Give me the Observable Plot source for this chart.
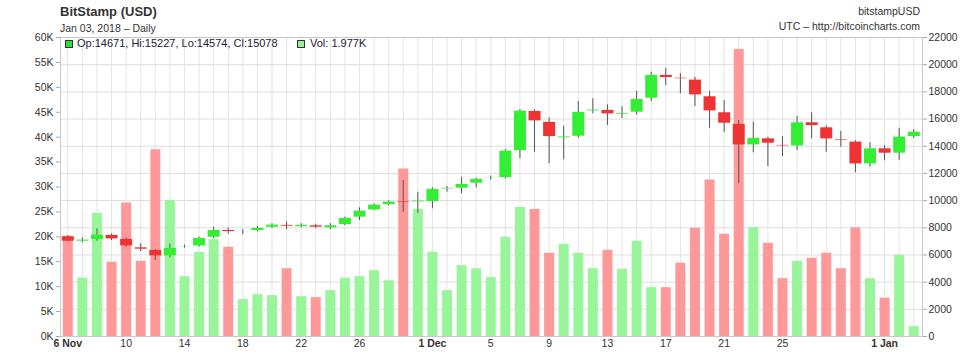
<!DOCTYPE html>
<html><head><meta charset="utf-8">
<script src="https://cdn.jsdelivr.net/npm/d3@7"></script>
<script src="https://cdn.jsdelivr.net/npm/@observablehq/plot@0.6"></script>
<style>
body{margin:0;background:#fff;font-family:"Liberation Sans",Arial,sans-serif;}
#wrap{position:relative;width:980px;height:360px;overflow:hidden;}
#chart{position:absolute;left:0;top:0;}
.t{position:absolute;white-space:nowrap;color:#333;line-height:1;}
.sq{position:absolute;width:6px;height:6px;border:1px solid #333;}
</style></head><body>
<div id="wrap">
  <div id="chart"></div>
  <div class="t" style="left:60px;top:5px;font-size:13px;font-weight:bold;">BitStamp (USD)</div>
  <div class="t" style="left:60px;top:23px;font-size:10.5px;">Jan 03, 2018 – Daily</div>
  <div class="t" style="right:60px;top:5.5px;font-size:10.5px;">bitstampUSD</div>
  <div class="t" style="right:60px;top:21px;font-size:10.5px;">UTC – http://bitcoincharts.com</div>
  <div class="sq" style="left:65px;top:39.5px;background:#33dd33;"></div>
  <div class="t" style="left:77px;top:38px;font-size:11px;color:#223;">Op:14671, Hi:15227, Lo:14574, Cl:15078</div>
  <div class="sq" style="left:297px;top:39.5px;background:#99ee99;"></div>
  <div class="t" style="left:310px;top:38px;font-size:11px;color:#223;">Vol: 1.977K</div>
</div>
<script>
// ---- data (daily, 6 Nov 2017 – 3 Jan 2018) ----
const startDay = "2017-11-06";
const endDay = "2018-01-03";
const opens  = [7380,6968,7090,7483,7189,6570,6379,5886,6526,6622,7262,7850,7680,7750,7998,8220,8040,8190,7950,8190,8734,9271,9660,9900,9860,9882,10860,10870,11236,11600,11650,13640,16606,15800,14640,14690,16555,16680,16313,16460,17490,19256,19010,18910,17683,16506,15650,14054,14590,14106,13980,15770,15400,14460,14348,12656,13855,13443,14671];
const highs  = [7420,7262,7924,7550,7250,6820,6400,6820,6720,7310,8042,7990,7870,8100,8300,8440,8300,8260,8300,8780,9470,9750,9980,11478,10618,10940,11036,11721,11650,11795,13737,16700,16680,16092,15474,17291,17490,17049,16900,18027,19447,19740,19330,19080,18027,17365,15893,15770,14650,14716,16190,16460,15500,15084,14400,14252,14050,15325,15227];
const lows   = [6950,6895,7012,7060,6570,6254,5590,5790,6500,6580,7210,7530,7480,7700,7950,7850,8000,7950,7850,8150,8535,9250,9620,9150,9072,9396,10620,10500,10940,11500,11600,13075,13560,12707,13000,14600,16386,15525,16040,16300,17291,18470,17860,16923,15325,14990,11236,13515,12510,13244,13686,14547,13560,13928,12045,12457,12930,12950,14574];
const closes = [6968,7137,7505,7137,6622,6379,5886,6526,6600,7262,7850,7676,7760,7998,8240,8070,8220,8000,8190,8734,9271,9713,9933,9860,10007,10868,10900,11236,11604,11700,13686,16630,15820,14665,14665,16533,16703,16335,16460,17490,19256,19010,18960,17733,16555,15650,14054,14620,14180,13980,15770,15474,14495,14420,12656,13855,13443,14716,15078];
const volumesK = [20.1,11.7,24.7,14.9,26.8,15.1,37.5,27.3,12.0,16.9,19.4,17.9,7.4,8.4,8.2,13.6,8.0,7.8,9.2,11.7,12.0,13.2,11.2,33.6,25.5,16.9,9.2,14.2,13.6,11.8,19.9,25.9,25.5,16.7,18.5,16.7,13.6,17.3,13.5,19.1,9.8,9.8,14.7,21.7,31.4,20.5,57.6,21.8,18.7,11.6,15.1,15.7,16.7,13.6,21.8,11.6,7.7,16.3,1.977];
const priceTicks = d3.range(0, 22001, 2000);
const volTicksK = d3.range(0, 61, 5);
const normalDateTicks = ["2017-11-10","2017-11-14","2017-11-18","2017-11-22","2017-11-26","2017-12-05","2017-12-09","2017-12-13","2017-12-17","2017-12-21","2017-12-25"];
const boldDateTicks = ["2017-11-06","2017-12-01","2018-01-01"];

// ---- build table ----
const days = d3.utcDay.range(new Date(startDay), d3.utcDay.offset(new Date(endDay), 1));
const data = days.map((date, i) => ({
  date, open: opens[i], high: highs[i], low: lows[i], close: closes[i], vol: volumesK[i],
  up: closes[i] >= opens[i]
}));
const VOL_MAX_K = 60, PRICE_MAX = 22000;
const volToPrice = k => k * PRICE_MAX / VOL_MAX_K;
const DAY = 864e5;

const chart = Plot.plot({
  width: 980, height: 360,
  marginLeft: 60, marginRight: 58, marginTop: 37, marginBottom: 24,
  style: {fontFamily: "'Liberation Sans', Arial, sans-serif", fontSize: "10.5px", color: "#333", background: "#fff"},
  x: {type: "utc", domain: [new Date(+days[0] - 0.5 * DAY), new Date(+days[days.length - 1] + 0.6 * DAY)]},
  y: {domain: [0, PRICE_MAX]},
  color: {type: "identity"},
  marks: [
    Plot.gridX(days, {stroke: "#e4e4e4", strokeOpacity: 1}),
    Plot.gridY(priceTicks, {stroke: "#dedede", strokeOpacity: 1}),
    Plot.ruleX(data, {x: "date", y1: 0, y2: d => volToPrice(d.vol), stroke: d => d.up ? "#99f599" : "#ff9898", strokeWidth: 10}),
    Plot.ruleX(data, {x: "date", y1: "low", y2: "high", stroke: "#555", strokeWidth: 1}),
    Plot.ruleX(data, {x: "date", y1: d => Math.min(d.open, d.close), y2: d => Math.max(d.open, d.close),
      stroke: d => d.up ? "#33ee33" : "#ee3333", strokeWidth: 12, insetTop: -0.6, insetBottom: -0.6}),
    Plot.frame({stroke: "#c8c8c8"}),
    Plot.axisY(volTicksK.map(volToPrice), {anchor: "left", tickSize: 4, tickPadding: 3, stroke: "#aaa",
      tickFormat: d => Math.round(d * VOL_MAX_K / PRICE_MAX) + "K", label: null}),
    Plot.axisY(priceTicks, {anchor: "right", tickSize: 4, tickPadding: 2, stroke: "#aaa",
      tickFormat: d3.format("d"), label: null}),
    Plot.axisX(normalDateTicks.map(s => new Date(s)), {tickSize: 0, tickPadding: 3, tickFormat: d3.utcFormat("%-d"), label: null}),
    Plot.axisX(boldDateTicks.map(s => new Date(s)), {tickSize: 0, tickPadding: 3, tickFormat: d3.utcFormat("%-d %b"), fontWeight: "bold", label: null})
  ]
});
document.getElementById("chart").appendChild(chart);
</script>
</body></html>
